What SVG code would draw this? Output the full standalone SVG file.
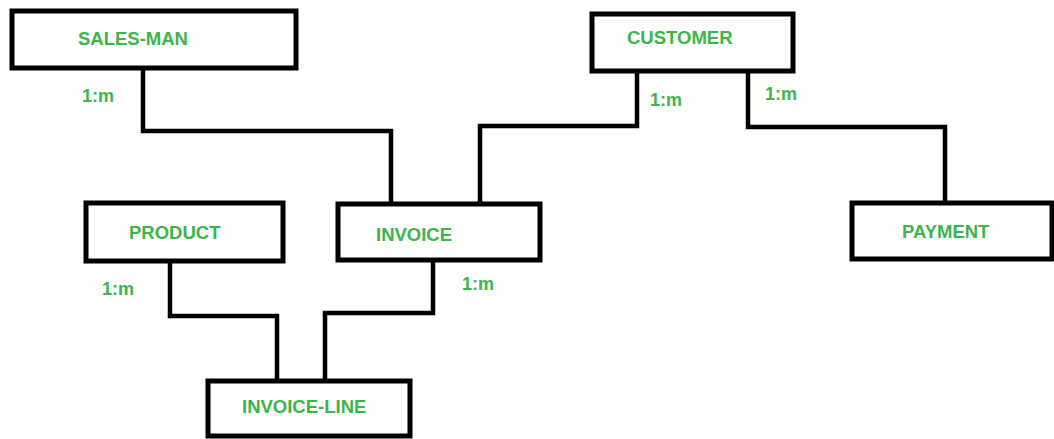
<svg xmlns="http://www.w3.org/2000/svg" width="1054" height="439" viewBox="0 0 1054 439">
  <style>
    .box { fill: #ffffff; stroke: #000000; stroke-width: 5; }
    .link { fill: none; stroke: #000000; stroke-width: 4.5; stroke-linejoin: miter; }
    .name { font-family: "Liberation Sans", Arial, sans-serif; font-weight: bold; font-size: 18.5px; fill: #3cb54a; }
    .card { font-family: "Liberation Sans", Arial, sans-serif; font-weight: bold; font-size: 18px; fill: #3cb54a; }
  </style>
  <rect width="1054" height="439" fill="#ffffff"/>

  <!-- relationship lines -->
  <g id="connectors">
    <polyline class="link" points="143,68 143,131 391,131 391,204"/>
    <polyline class="link" points="637,71 637,126 480,126 480,205"/>
    <polyline class="link" points="748,71 748,127 945,127 945,203"/>
    <polyline class="link" points="170,261 170,316 277,316 277,381"/>
    <polyline class="link" points="433,260 433,313 325,313 325,381"/>
    <text class="card" x="82" y="102">1:m</text>
    <text class="card" x="650" y="106">1:m</text>
    <text class="card" x="765" y="100">1:m</text>
    <text class="card" x="102" y="295">1:m</text>
    <text class="card" x="462" y="290">1:m</text>
  </g>

  <g id="sales-man">
    <rect class="box" x="12" y="11" width="284" height="57"/>
    <text class="name" x="78" y="45">SALES-MAN</text>
  </g>

  <g id="customer">
    <rect class="box" x="592" y="14" width="201" height="57"/>
    <text class="name" x="627" y="44">CUSTOMER</text>
  </g>

  <g id="product">
    <rect class="box" x="86" y="203" width="197" height="58"/>
    <text class="name" x="129" y="239">PRODUCT</text>
  </g>

  <g id="invoice">
    <rect class="box" x="338" y="204" width="202" height="56"/>
    <text class="name" x="376" y="241">INVOICE</text>
  </g>

  <g id="payment">
    <rect class="box" x="852" y="203" width="200" height="56"/>
    <text class="name" x="902" y="238">PAYMENT</text>
  </g>

  <g id="invoice-line">
    <rect class="box" x="208" y="381" width="202" height="55"/>
    <text class="name" x="242" y="413">INVOICE-LINE</text>
  </g>
</svg>
